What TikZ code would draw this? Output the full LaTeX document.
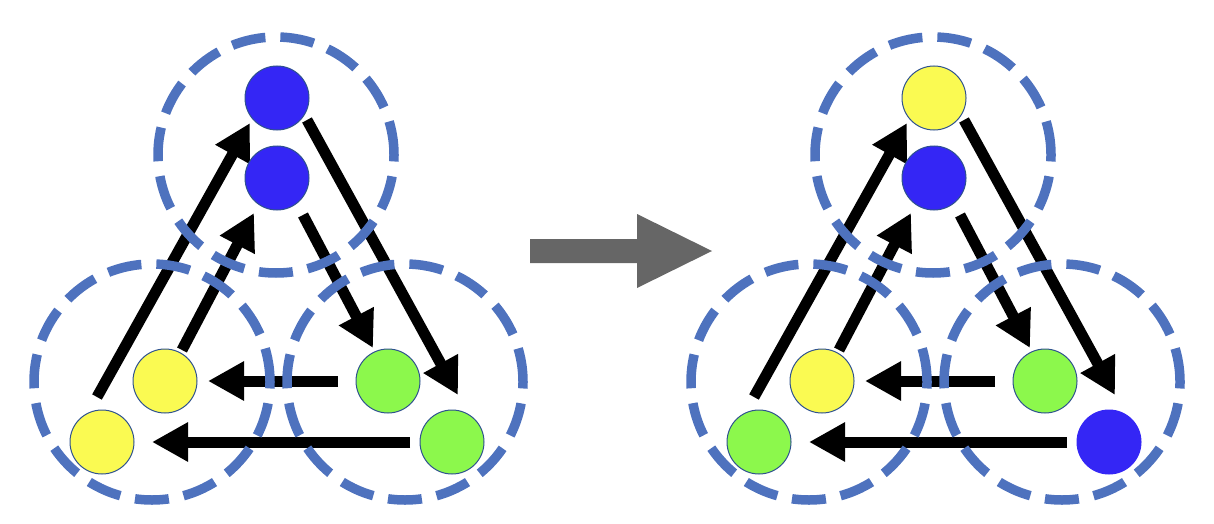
\documentclass[tikz,border=0pt]{standalone}
\usetikzlibrary{arrows.meta}
\definecolor{nblue}{RGB}{52,38,245}
\definecolor{nyellow}{RGB}{250,250,82}
\definecolor{ngreen}{RGB}{140,248,76}
\definecolor{nedge}{RGB}{47,82,143}
\definecolor{ring}{RGB}{78,114,190}
\definecolor{bigarrow}{RGB}{102,102,102}
\begin{document}
\begin{tikzpicture}[x=1pt,y=-1pt,
  dot/.style={circle,draw=nedge,line width=1pt,minimum size=64pt,inner sep=0pt},
  group/.style={circle,draw=ring,line width=9.5pt,dash pattern=on 34pt off 15pt,minimum size=236pt,inner sep=0pt},
  flow/.style={line width=11pt,-{Triangle[length=36pt,width=37pt]}}]
\useasboundingbox (0,0) rectangle (1214,524);
% ---------- left panel ----------
\begin{scope}
  \coordinate (La1s) at (97,397);  \coordinate (La1e) at (250,123);
  \coordinate (La2s) at (182,350); \coordinate (La2e) at (254,213);
  \coordinate (La3s) at (303,215); \coordinate (La3e) at (373,348);
  \coordinate (La4s) at (307,120); \coordinate (La4e) at (458,395);
  \coordinate (La5s) at (338,381); \coordinate (La5e) at (208,381);
  \coordinate (La6s) at (410,442); \coordinate (La6e) at (152,442);
  \draw[flow] (La1s) -- (La1e);
  \draw[flow] (La2s) -- (La2e);
  \draw[flow] (La3s) -- (La3e);
  \draw[flow] (La4s) -- (La4e);
  \draw[flow] (La5s) -- (La5e);
  \draw[flow] (La6s) -- (La6e);
  \node[group] (LgT) at (276,155) {};
  \node[group] (LgL) at (152,382) {};
  \node[group] (LgR) at (405,382) {};
  \node[dot,fill=nblue]   (Ln1) at (277,98)  {};
  \node[dot,fill=nblue]   (Ln2) at (277,178) {};
  \node[dot,fill=nyellow] (Lyi) at (165,381) {};
  \node[dot,fill=nyellow] (Lyo) at (102,442) {};
  \node[dot,fill=ngreen]  (Lgi) at (388,381) {};
  \node[dot,fill=ngreen]  (Lgo) at (452,442) {};
\end{scope}
% ---------- big arrow ----------
\fill[bigarrow] (530,239) -- (637,239) -- (637,214) -- (712,251) -- (637,288) -- (637,263) -- (530,263) -- cycle;
% ---------- right panel ----------
\begin{scope}[xshift=657pt]
  \coordinate (Ra1s) at (97,397);  \coordinate (Ra1e) at (250,123);
  \coordinate (Ra2s) at (182,350); \coordinate (Ra2e) at (254,213);
  \coordinate (Ra3s) at (303,215); \coordinate (Ra3e) at (373,348);
  \coordinate (Ra4s) at (307,120); \coordinate (Ra4e) at (458,395);
  \coordinate (Ra5s) at (338,381); \coordinate (Ra5e) at (208,381);
  \coordinate (Ra6s) at (410,442); \coordinate (Ra6e) at (152,442);
  \draw[flow] (Ra1s) -- (Ra1e);
  \draw[flow] (Ra2s) -- (Ra2e);
  \draw[flow] (Ra3s) -- (Ra3e);
  \draw[flow] (Ra4s) -- (Ra4e);
  \draw[flow] (Ra5s) -- (Ra5e);
  \draw[flow] (Ra6s) -- (Ra6e);
  \node[group] (RgT) at (276,155) {};
  \node[group] (RgL) at (152,382) {};
  \node[group] (RgR) at (405,382) {};
  \node[dot,fill=nyellow] (Rn1) at (277,98)  {};
  \node[dot,fill=nblue]   (Rn2) at (277,178) {};
  \node[dot,fill=nyellow] (Ryi) at (165,381) {};
  \node[dot,fill=ngreen]  (Ryo) at (102,442) {};
  \node[dot,fill=ngreen]  (Rgi) at (388,381) {};
  \node[dot,fill=nblue,draw=nblue] (Rgo) at (452,442) {};
\end{scope}
\end{tikzpicture}
\end{document}
